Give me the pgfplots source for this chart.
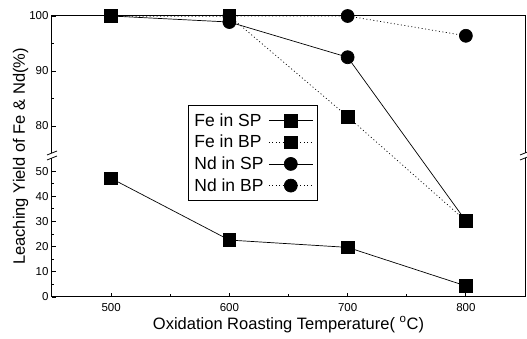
\documentclass[border=0pt]{standalone}
\usepackage{pgfplots}
\pgfplotsset{compat=1.18}
\usepackage{fontspec}
\setmainfont{Liberation Sans}
\begin{document}
\begin{tikzpicture}
\begin{axis}[
  scale only axis, width=473pt, height=281pt,
  xmin=450, xmax=850, ymin=0, ymax=100,
  y coord trafo/.code={\pgfmathparse{#1>65 ? 57+(#1-75)*2.1825 : #1}},
  y coord inv trafo/.code={\pgfmathparse{#1>56 ? (#1-57)/2.1825+75 : #1}},
  xtick={500,600,700,800}, minor xtick={550,650,750},
  ytick={0,10,20,30,40,50,80,90,100},
  yticklabels={0,10,20,30,40,50,80,90,100},
  minor ytick={5,15,25,35,45,85,95},
  xtick pos=bottom, ytick pos=left,
  tick align=inside,
  major tick length=4pt, minor tick length=2.5pt,
  axis line style={line width=1pt},
  every tick/.style={black, line width=0.8pt},
  /pgf/number format/assume math mode=true,
  ticklabel style={font=\fontsize{11.5}{13}\selectfont},
  xticklabel style={yshift=-3pt},
  xlabel={Oxidation Roasting Temperature( $^{\mathrm{o}}$C)},
  ylabel={Leaching Yield of Fe \& Nd(\%)},
  label style={font=\fontsize{16.5}{19}\selectfont},
  xlabel style={yshift=2pt},
  ylabel style={yshift=-6pt},
  clip=false,
  legend style={at={(0.2875,0.683)}, anchor=north west, draw=black, line width=0.8pt,
    font=\fontsize{17.5}{19}\selectfont, legend plot pos=right, row sep=3.5pt,
    column sep=3pt,
    inner xsep=4pt, inner ysep=6pt, legend cell align=left,
    nodes={inner xsep=2pt}},
  legend image code/.code={\draw[mark repeat=2,mark phase=2,#1] plot coordinates {(0pt,0pt) (22pt,0pt) (44pt,0pt)};},
]
% Fe in SP (solid, squares)
\addplot[black, line width=0.7pt, mark=square*, mark size=6.3pt, mark options={solid}]
  coordinates {(500,47.1) (600,22.6) (700,19.7) (800,4.4)};
\addlegendentry{Fe in SP}
% Fe in BP (dotted, squares)
\addplot[black, line width=0.7pt, dash pattern=on 1pt off 2.5pt, mark=square*, mark size=6.3pt, mark options={solid}]
  coordinates {(500,100) (600,100) (700,81.7) (800,30.2)};
\addlegendentry{Fe in BP}
% Nd in SP (solid, circles)
\addplot[black, line width=0.7pt, mark=*, mark size=6.5pt, mark options={solid}]
  coordinates {(500,100) (600,98.9) (700,92.5) (800,30.2)};
\addlegendentry{Nd in SP}
% Nd in BP (dotted, circles)
\addplot[black, line width=0.7pt, dash pattern=on 1pt off 2.5pt, mark=*, mark size=6.5pt, mark options={solid}]
  coordinates {(500,100) (600,100) (700,100) (800,96.4)};
\addlegendentry{Nd in BP}
\coordinate (LT) at (rel axis cs:0,0.5125);
\coordinate (LB) at (rel axis cs:0,0.4947);
\coordinate (RT) at (rel axis cs:1,0.5125);
\coordinate (RB) at (rel axis cs:1,0.4947);
\end{axis}
\fill[white] ([xshift=-2pt]LB) rectangle ([xshift=2pt]LT);
\fill[white] ([xshift=-2pt]RB) rectangle ([xshift=2pt]RT);
\draw[line width=0.8pt] ([xshift=-5pt,yshift=-2pt]LT) -- ([xshift=5pt,yshift=2pt]LT);
\draw[line width=0.8pt] ([xshift=-5pt,yshift=-2pt]LB) -- ([xshift=5pt,yshift=2pt]LB);
\draw[line width=0.8pt] ([xshift=-5pt,yshift=-2pt]RT) -- ([xshift=5pt,yshift=2pt]RT);
\draw[line width=0.8pt] ([xshift=-5pt,yshift=-2pt]RB) -- ([xshift=5pt,yshift=2pt]RB);
\pgfresetboundingbox
\path[use as bounding box] (-52pt,-42pt) rectangle (475pt,297pt);
\end{tikzpicture}
\end{document}
